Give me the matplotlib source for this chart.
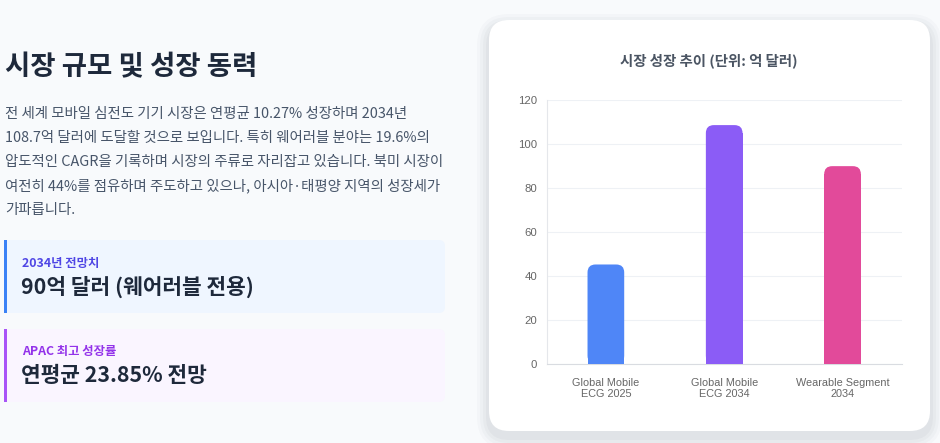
import matplotlib
matplotlib.use("Agg")
import matplotlib.pyplot as plt
from matplotlib.patches import FancyBboxPatch, Rectangle

plt.rcParams["font.family"] = ["Noto Sans CJK KR", "DejaVu Sans"]

# ── data ──────────────────────────────────────────────────────────────────────
categories = [["Global Mobile", "ECG 2025"], ["Global Mobile", "ECG 2034"], ["Wearable Segment", "2034"]]
values = [45.2, 108.7, 90.0]
bar_colors = ["#4f86f7", "#8b5cf6", "#e24a9a"]
y_ticks = [0, 20, 40, 60, 80, 100, 120]

heading = "시장 규모 및 성장 동력"
paragraph = [
    "전 세계 모바일 심전도 기기 시장은 연평균 10.27% 성장하며 2034년",
    "108.7억 달러에 도달할 것으로 보입니다. 특히 웨어러블 분야는 19.6%의",
    "압도적인 CAGR을 기록하며 시장의 주류로 자리잡고 있습니다. 북미 시장이",
    "여전히 44%를 점유하며 주도하고 있으나, 아시아·태평양 지역의 성장세가",
    "가파릅니다.",
]
cards = [
    ("2034년 전망치", "90억 달러 (웨어러블 전용)"),
    ("APAC 최고 성장률", "연평균 23.85% 전망"),
]
chart_title = "시장 성장 추이 (단위: 억 달러)"

W, H = 940, 443
fig = plt.figure(figsize=(W / 100, H / 100), dpi=100)
fig.patch.set_facecolor("#f8fafc")

# background canvas in pixel coordinates
bg = fig.add_axes([0, 0, 1, 1])
bg.set_xlim(0, W)
bg.set_ylim(H, 0)
bg.axis("off")

# ── left column ───────────────────────────────────────────────────────────────
bg.text(5, 67, heading, fontsize=19.8, fontweight="bold", color="#1e293b", va="center", ha="left")
for i, line in enumerate(paragraph):
    bg.text(5, 114 + i * 24, line, fontsize=10.4, color="#475569", va="center", ha="left")

card_style = [
    dict(y0=240, bg="#eff6ff", bar="#3b82f6", label="#4f46e5"),
    dict(y0=329, bg="#faf5ff", bar="#a855f7", label="#9333ea"),
]
for (label, value), st in zip(cards, card_style):
    y0, h = st["y0"], 73
    bg.add_patch(FancyBboxPatch((4, y0), 441, h, boxstyle="round,pad=0,rounding_size=6",
                                facecolor=st["bg"], edgecolor="none", zorder=1))
    bg.add_patch(Rectangle((4, y0), 3, h, facecolor=st["bar"], edgecolor="none", zorder=2))
    bg.text(22, y0 + 23, label, fontsize=8.9, fontweight="bold", color=st["label"], va="center")
    bg.text(21, y0 + 47, value, fontsize=15.4, fontweight="bold", color="#1e293b", va="center")

# ── chart card with soft shadow ──────────────────────────────────────────────
cx, cy, cw, ch = 489, 20, 441, 411
for k, a in enumerate([0.018, 0.022, 0.026, 0.03]):
    g = 12 - k * 3
    bg.add_patch(FancyBboxPatch((cx - g, cy - g + 6), cw + 2 * g, ch + 2 * g,
                                boxstyle=f"round,pad=0,rounding_size={20 + g}",
                                facecolor="#1e293b", alpha=a, edgecolor="none", zorder=1))
bg.add_patch(FancyBboxPatch((cx, cy), cw, ch, boxstyle="round,pad=0,rounding_size=20",
                            facecolor="white", edgecolor="none", zorder=2))
bg.text(709, 61, chart_title, fontsize=10.4, fontweight="bold", color="#4b5563",
        ha="center", va="center", zorder=3)

# ── bar chart ─────────────────────────────────────────────────────────────────
ax = fig.add_axes([546.7 / W, 1 - 363.7 / H, 355 / W, 263.4 / H])
ax.patch.set_alpha(0)
x = list(range(len(values)))
width = 0.31
ax.set_xlim(-0.5, len(values) - 0.5)
ax.set_ylim(0, 120)

# rounded top corners (radius ~8px); aspect makes the rounding circular on screen
px_x = 355 / 3.0
px_y = 263.4 / 120
r_x = 8 / px_x
r_y = 8 / px_y
for xi, v, c in zip(x, values, bar_colors):
    ax.add_patch(FancyBboxPatch((xi - width / 2, 0), width, v,
                                boxstyle=f"round,pad=0,rounding_size={r_x}",
                                mutation_aspect=r_y / r_x,
                                facecolor=c, edgecolor="none", zorder=3))
ax.bar(x, [v - r_y for v in values], width=width, color=bar_colors, zorder=3)

ax.set_yticks(y_ticks)
ax.set_yticklabels([str(t) for t in y_ticks], family=["Liberation Sans", "DejaVu Sans"],
                   fontsize=8.2, color="#666666")
ax.set_xticks(x)
ax.set_xticklabels(["\n".join(c) for c in categories], family=["Liberation Sans", "DejaVu Sans"],
                   fontsize=7.8, color="#666666", linespacing=1.2)
ax.tick_params(axis="y", length=0, pad=7)
ax.tick_params(axis="x", length=0, pad=10)
ax.grid(axis="y", color="#eef1f5", linewidth=0.8, zorder=0)
for s in ("top", "right"):
    ax.spines[s].set_visible(False)
ax.spines["left"].set_color("#e5e7eb")
ax.spines["bottom"].set_color("#d9dce1")
ax.spines["left"].set_linewidth(0.8)
ax.spines["bottom"].set_linewidth(0.8)

fig.savefig("out.png", dpi=100, facecolor=fig.get_facecolor())
